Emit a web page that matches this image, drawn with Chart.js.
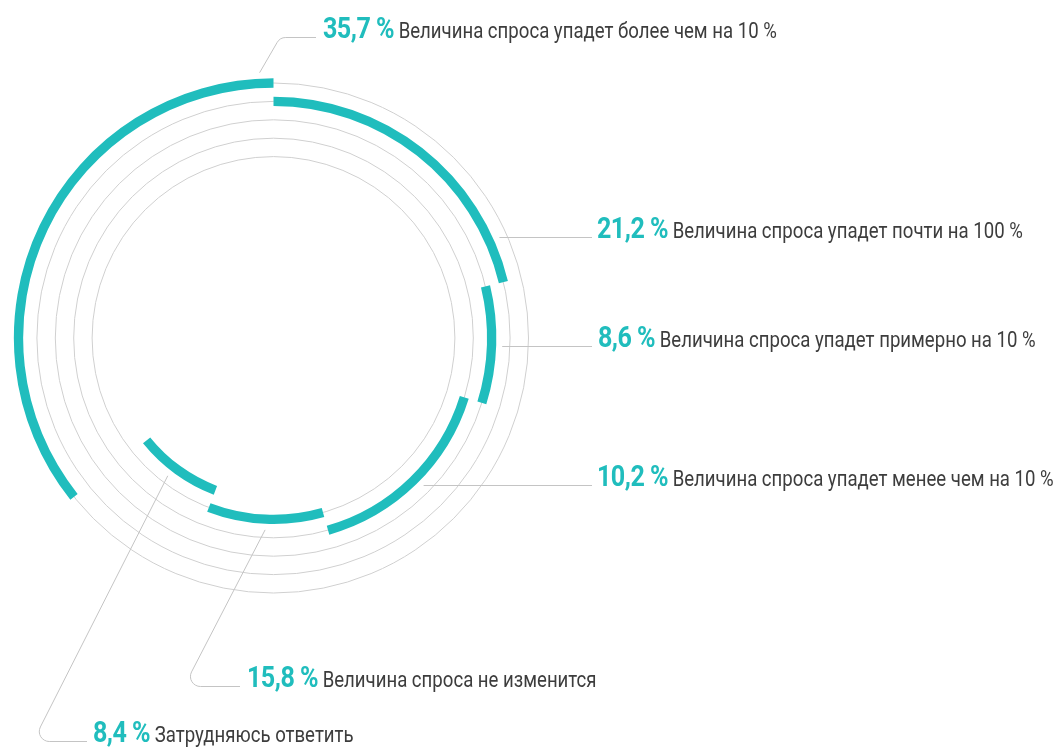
<!DOCTYPE html>
<html lang="ru">
<head>
<meta charset="utf-8">
<script src="https://cdn.jsdelivr.net/npm/chart.js@4.4.1/dist/chart.umd.min.js"></script>
<style>
  html, body { margin: 0; padding: 0; background: #fff; }
  #wrap { position: relative; width: 1056px; height: 747px; overflow: hidden; }
  #chart { position: absolute; left: 0; top: 0; }
  .lbl {
    position: absolute;
    white-space: nowrap;
    font-family: Roboto, "Liberation Sans", sans-serif;
    font-size: 21.5px;
    line-height: 30px;
    color: #3d3d3d;
    transform: scaleX(0.865);
    transform-origin: 0 50%;
  }
  .lbl b { font-size: 29px; color: #20bdbd; font-weight: bold; letter-spacing: -0.6px; }
</style>
</head>
<body>
<div id="wrap">
  <canvas id="chart" width="1056" height="747"></canvas>
</div>
<script>
// Survey answers, in the order of the rings (outer -> inner)
const categories = [
    'Величина спроса упадет более чем на 10 %',
    'Величина спроса упадет почти на 100 %',
    'Величина спроса упадет примерно на 10 %',
    'Величина спроса упадет менее чем на 10 %',
    'Величина спроса не изменится',
    'Затрудняюсь ответить'
];
// Shares as printed next to each answer
const shares = ['35,7', '21,2', '8,6', '10,2', '15,8', '8,4'];
// Arc lengths as drawn on each ring, % of a full turn
// (in the source picture rings 4 and 5 carry 15.8 and 10.2)
const arcShares = [35.7, 21.2, 8.6, 15.8, 10.2, 8.4];

const teal = '#20bdbd';
const trackColor = '#d0d0d0';
const lineColor = '#c4c4c4';

// ring 1 ends at 12 o'clock, the others follow one another clockwise from 12 o'clock
const starts = [];
let acc = 0;
for (let i = 1; i < arcShares.length; i++) {
    starts[i] = acc;
    acc += arcShares[i];
}
starts[0] = 100 - arcShares[0];

const ringWeight = 9.3;
const gapWeight = 9.1;

const datasets = [];
const ringIndex = [];
arcShares.forEach((v, i) => {
    if (i > 0) {
        datasets.push({ data: [100], backgroundColor: ['rgba(0,0,0,0)'], weight: gapWeight, borderWidth: 0 });
    }
    ringIndex.push(datasets.length);
    datasets.push({
        label: categories[i],
        data: [starts[i], v, Math.max(100 - starts[i] - v, 0)],
        backgroundColor: ['rgba(0,0,0,0)', teal, 'rgba(0,0,0,0)'],
        weight: ringWeight,
        borderWidth: 0
    });
});

// label anchor: ring, optional angle (deg clockwise from 12), elbow x, baseline y, end of line, text x
const leaders = [
    { ring: 0, angle: -3,    cornerX: 280, y: 37.5,  endX: 316, textX: 323 },
    { ring: 1,               y: 237.5, endX: 592, textX: 597 },
    { ring: 2,               y: 346.5, endX: 592, textX: 598 },
    { ring: 3,               y: 485.5, endX: 592, textX: 597 },
    { ring: 4, angle: 182.5, cornerX: 184, y: 686.5, endX: 240, textX: 247 },
    { ring: 5, angle: 217.5, cornerX: 33,  y: 741.5, endX: 87,  textX: 93 }
];

const tracksPlugin = {
    id: 'tracks',
    beforeDatasetsDraw(chart) {
        const ctx = chart.ctx;
        ctx.save();
        ctx.strokeStyle = trackColor;
        ctx.lineWidth = 1;
        ringIndex.slice(0, 5).forEach(di => {
            const arc = chart.getDatasetMeta(di).data[1];
            const r = (arc.innerRadius + arc.outerRadius) / 2;
            ctx.beginPath();
            ctx.arc(arc.x, arc.y, r, 0, Math.PI * 2);
            ctx.stroke();
        });
        ctx.restore();
    }
};

const leadersPlugin = {
    id: 'leaders',
    afterDatasetsDraw(chart) {
        const ctx = chart.ctx;
        ctx.save();
        ctx.strokeStyle = lineColor;
        ctx.lineWidth = 1;
        leaders.forEach(l => {
            const arc = chart.getDatasetMeta(ringIndex[l.ring]).data[1];
            const R = arc.outerRadius + 6;
            ctx.beginPath();
            if (l.angle !== undefined) {
                const a = l.angle * Math.PI / 180;
                ctx.moveTo(arc.x + R * Math.sin(a), arc.y - R * Math.cos(a));
                ctx.arcTo(l.cornerX, l.y, l.endX, l.y, 10);
            } else {
                const dy = l.y - arc.y;
                ctx.moveTo(arc.x + Math.sqrt(R * R - dy * dy), l.y);
            }
            ctx.lineTo(l.endX, l.y);
            ctx.stroke();
        });
        ctx.restore();
    }
};

new Chart(document.getElementById('chart'), {
    type: 'doughnut',
    data: { labels: ['', '', ''], datasets: datasets },
    options: {
        responsive: false,
        animation: false,
        events: [],
        cutout: 158.35,
        layout: { padding: { left: 13.85, top: 78.35, right: 522.85, bottom: 149.35 } },
        plugins: {
            legend: { display: false },
            tooltip: { enabled: false }
        }
    },
    plugins: [tracksPlugin, leadersPlugin]
});

// text labels
const wrap = document.getElementById('wrap');
leaders.forEach((l, i) => {
    const div = document.createElement('div');
    div.className = 'lbl';
    div.style.left = l.textX + 'px';
    div.style.top = (l.y - 24.9) + 'px';
    const b = document.createElement('b');
    b.textContent = shares[i] + ' %';
    div.appendChild(b);
    div.appendChild(document.createTextNode(' ' + categories[i]));
    wrap.appendChild(div);
});
</script>
</body>
</html>
